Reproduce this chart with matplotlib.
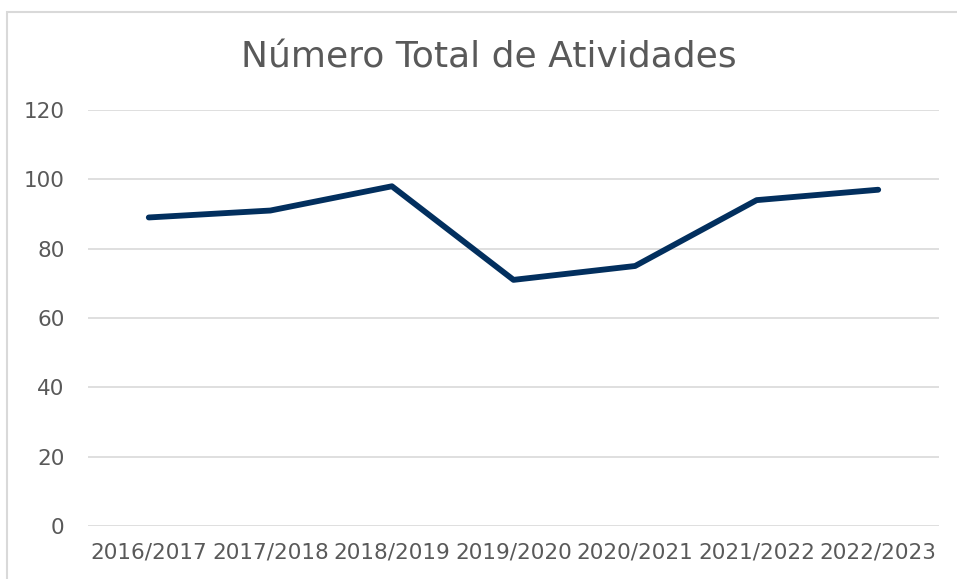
import matplotlib.pyplot as plt
from matplotlib.patches import Rectangle

# Dados
anos = ['2016/2017', '2017/2018', '2018/2019', '2019/2020',
        '2020/2021', '2021/2022', '2022/2023']
atividades = [89, 91, 98, 71, 75, 94, 97]
y_ticks = [0, 20, 40, 60, 80, 100, 120]

W, H = 957, 579
fig = plt.figure(figsize=(W / 100, H / 100), dpi=100)

# Moldura do gráfico (cortada à direita e em baixo)
fig.patches.append(Rectangle((7.5 / W, -0.1), 1.2, 1 - 11.5 / H + 0.1,
                             transform=fig.transFigure, fill=False,
                             edgecolor='#d9d9d9', linewidth=1.5))

ax = fig.add_axes([88 / W, 1 - 526 / H, (939 - 88) / W, (526 - 110) / H])
x = list(range(len(anos)))
ax.plot(x, atividades, color='#022F5E', linewidth=4.2, solid_capstyle='round',
        solid_joinstyle='round', zorder=3)

ax.set_xlim(-0.5, len(anos) - 0.5)
ax.set_ylim(0, 120)
ax.set_yticks(y_ticks)
ax.set_xticks(x)
ax.set_xticklabels(anos)
ax.grid(axis='y', color='#d9d9d9', linewidth=1.2)
ax.set_axisbelow(True)
for s in ax.spines.values():
    s.set_visible(False)
ax.tick_params(length=0, labelsize=15.5, colors='#595959')
ax.tick_params(axis='x', pad=12)
ax.tick_params(axis='y', pad=17)

fig.text(489 / W, 1 - 57 / H, 'Número Total de Atividades', ha='center', va='center',
         fontsize=26, color='#595959')

fig.savefig('out.png', dpi=100)
